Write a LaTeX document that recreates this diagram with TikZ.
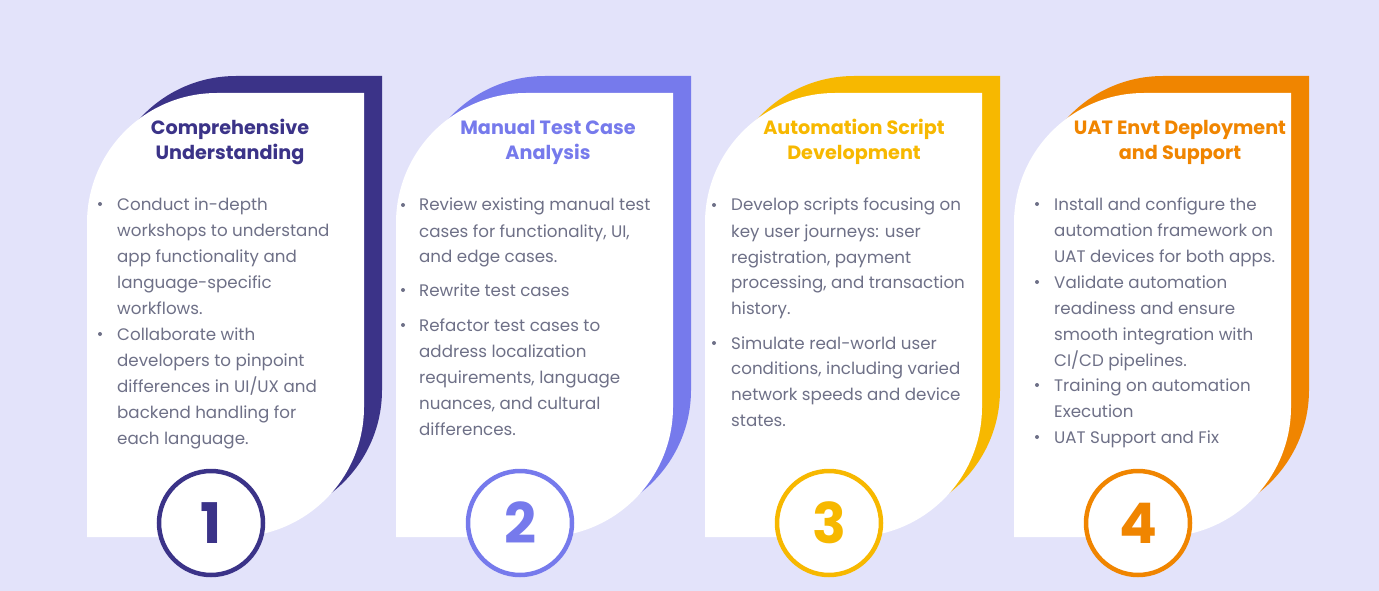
\documentclass[tikz,border=0pt]{standalone}
\usepackage{fontspec}
\setmainfont{Poppins}
\definecolor{bgc}{HTML}{E3E3FA}
\definecolor{cA}{HTML}{3B3388}
\definecolor{cB}{HTML}{767AEC}
\definecolor{cC}{HTML}{F7B800}
\definecolor{cD}{HTML}{F08500}
\definecolor{txt}{HTML}{6E7087}
\newcommand\leaf[5]{\fill[#5] (#1,#4) -- (#1,{#2+130}) .. controls (#1,{#2+58.2}) and ({#1+58.2},#2) .. ({#1+130},#2) -- (#3,#2) -- (#3,{#4-130}) .. controls (#3,{#4-58.2}) and ({#3-58.2},#4) .. ({#3-130},#4) -- cycle;}
\newcommand\card[2]{\leaf{#1+19}{76}{#1+295}{520}{#2}\leaf{#1}{93}{#1+277}{537}{white}}
\tikzset{
  body/.style={anchor=base west, inner sep=0pt, text=txt, font=\fontsize{16.7}{20}\selectfont},
  ttl/.style={anchor=base, inner sep=0pt, font=\fontsize{19.2}{22}\selectfont\bfseries},
  bul/.style={circle, fill=txt, inner sep=0pt, minimum size=4pt},
  numc/.style={circle, fill=white, line width=4.5pt, minimum size=104pt, inner sep=0pt, font=\fontsize{56}{60}\selectfont\bfseries}
}
\begin{document}
\begin{tikzpicture}[x=1pt,y=-1pt]
\useasboundingbox (0,0) rectangle (1379,591);
\fill[bgc] (0,0) rectangle (1379,591);
\card{87}{cA}
\card{396}{cB}
\card{705}{cC}
\card{1014}{cD}
% titles
\node[ttl, text=cA] (h1a) at (230,135) {Comprehensive};
\node[ttl, text=cA] (h1b) at (230,160) {Understanding};
\node[ttl, text=cB] (h2a) at (548,135) {Manual Test Case};
\node[ttl, text=cB] (h2b) at (548,160) {Analysis};
\node[ttl, text=cC] (h3a) at (854,135) {Automation Script};
\node[ttl, text=cC] (h3b) at (854,160) {Development};
\node[ttl, text=cD] (h4a) at (1180,135) {UAT Envt Deployment};
\node[ttl, text=cD] (h4b) at (1180,160) {and Support};
% card 1 body
\foreach \y/\t [count=\i] in {210/{Conduct in-depth}, 236/{workshops to understand}, 262/{app functionality and}, 288/{language-specific}, 314/{workflows.}, 340/{Collaborate with}, 366/{developers to pinpoint}, 392/{differences in UI/UX and}, 418/{backend handling for}, 444/{each language.}}
  \node[body] (a\i) at (117,\y) {\t};
\node[bul] (ba1) at (100,204) {};
\node[bul] (ba2) at (100,334) {};
% card 2 body
\foreach \y/\t [count=\i] in {211/{Review existing manual test}, 237/{cases for functionality, UI,}, 262/{and edge cases.}, 296/{Rewrite test cases}, 331/{Refactor test cases to}, 357/{address localization}, 383/{requirements, language}, 409/{nuances, and cultural}, 435/{differences.}}
  \node[body] (b\i) at (419,\y) {\t};
\node[bul] (bb1) at (403,205) {};
\node[bul] (bb2) at (403,290) {};
\node[bul] (bb3) at (403,325) {};
% card 3 body
\foreach \y/\t [count=\i] in {211/{Develop scripts focusing on}, 237/{key user journeys: user}, 263/{registration, payment}, 288/{processing, and transaction}, 314/{history.}, 349/{Simulate real-world user}, 374/{conditions, including varied}, 400/{network speeds and device}, 426/{states.}}
  \node[body] (c\i) at (731,\y) {\t};
\node[bul] (bc1) at (714,205) {};
\node[bul] (bc2) at (714,343) {};
% card 4 body
\foreach \y/\t [count=\i] in {210/{Install and configure the}, 236/{automation framework on}, 262/{UAT devices for both apps.}, 288/{Validate automation}, 314/{readiness and ensure}, 340/{smooth integration with}, 366/{CI/CD pipelines.}, 391/{Training on automation}, 417/{Execution}, 443/{UAT Support and Fix}}
  \node[body] (d\i) at (1054,\y) {\t};
\node[bul] (bd1) at (1037,204) {};
\node[bul] (bd2) at (1037,282) {};
\node[bul] (bd3) at (1037,385) {};
\node[bul] (bd4) at (1037,437) {};
% number circles
\node[numc, draw=cA, text=cA] (n1) at (211,523) {1};
\node[numc, draw=cB, text=cB] (n2) at (520,523) {2};
\node[numc, draw=cC, text=cC] (n3) at (829,523) {3};
\node[numc, draw=cD, text=cD] (n4) at (1138,523) {4};
\end{tikzpicture}
\end{document}
